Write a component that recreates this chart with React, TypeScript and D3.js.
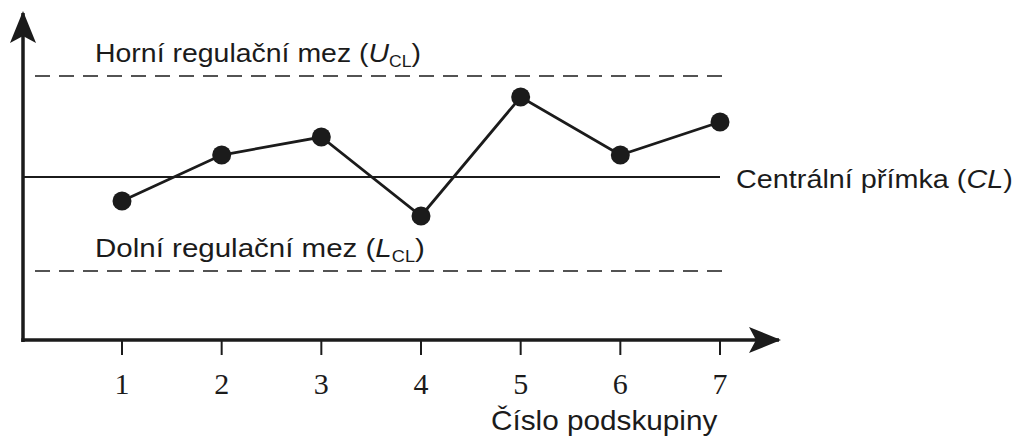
import React, { useEffect, useRef } from 'react';
import * as d3 from 'd3';

const subgroups = [1, 2, 3, 4, 5, 6, 7];
const values = [13.9, 18.5, 20.3, 12.4, 24.3, 18.5, 21.8];
const centralLine = 16.3;
const upperLimit = 26.4;
const lowerLimit = 6.9;

const labelUpper = 'Horní regulační mez (';
const labelLower = 'Dolní regulační mez (';
const labelCentral = 'Centrální přímka (';
const xTitle = 'Číslo podskupiny';

const INK = '#1b1b1b';

const App: React.FC = () => {
  const svgRef = useRef<SVGSVGElement>(null);

  useEffect(() => {
    if (!svgRef.current) return;
    const svg = d3.select(svgRef.current);
    svg.selectAll('*').remove();

    const x = d3.scaleLinear().domain([1, 7]).range([122, 720]);
    const y = d3.scaleLinear().domain([0, 32]).range([340, 20]);

    const defs = svg.append('defs');
    defs.append('marker')
      .attr('id', 'arrow')
      .attr('viewBox', '0 0 32 26')
      .attr('refX', 30)
      .attr('refY', 13)
      .attr('markerWidth', 32)
      .attr('markerHeight', 26)
      .attr('markerUnits', 'userSpaceOnUse')
      .attr('orient', 'auto')
      .append('path')
      .attr('d', 'M0,0 L32,13 L0,26 L7,13 Z')
      .attr('fill', INK);

    const axisX0 = 23;
    // y axis
    svg.append('line')
      .attr('x1', axisX0).attr('y1', y(0) + 2)
      .attr('x2', axisX0).attr('y2', 13)
      .attr('stroke', INK).attr('stroke-width', 3.5)
      .attr('marker-end', 'url(#arrow)');
    // x axis
    svg.append('line')
      .attr('x1', axisX0 - 1.75).attr('y1', y(0))
      .attr('x2', 779).attr('y2', y(0))
      .attr('stroke', INK).attr('stroke-width', 3.5)
      .attr('marker-end', 'url(#arrow)');

    // ticks
    svg.append('g').selectAll('line')
      .data(subgroups)
      .join('line')
      .attr('x1', d => x(d)).attr('x2', d => x(d))
      .attr('y1', y(0)).attr('y2', y(0) + 15)
      .attr('stroke', INK).attr('stroke-width', 2);

    svg.append('g').selectAll('text')
      .data(subgroups)
      .join('text')
      .attr('x', d => x(d))
      .attr('y', 394)
      .attr('text-anchor', 'middle')
      .attr('font-family', '"Liberation Serif", "DejaVu Serif", serif')
      .attr('font-size', 30)
      .attr('fill', INK)
      .text(d => String(d));

    // limit lines
    [upperLimit, lowerLimit].forEach(v => {
      svg.append('line')
        .attr('x1', 35).attr('x2', 722)
        .attr('y1', y(v)).attr('y2', y(v))
        .attr('stroke', INK).attr('stroke-width', 1.6)
        .attr('stroke-dasharray', '15,9');
    });
    svg.append('line')
      .attr('x1', axisX0).attr('x2', 720)
      .attr('y1', y(centralLine)).attr('y2', y(centralLine))
      .attr('stroke', INK).attr('stroke-width', 1.8);

    // data line
    const line = d3.line<number>()
      .x((_, i) => x(subgroups[i]))
      .y(d => y(d));
    svg.append('path')
      .datum(values)
      .attr('d', line)
      .attr('fill', 'none')
      .attr('stroke', INK)
      .attr('stroke-width', 2.8);

    svg.append('g').selectAll('circle')
      .data(values)
      .join('circle')
      .attr('cx', (_, i) => x(subgroups[i]))
      .attr('cy', d => y(d))
      .attr('r', 9.5)
      .attr('fill', INK);

    const sans = '"Liberation Sans", Arial, sans-serif';
    // stretch a label horizontally so it spans [x0, x1]
    const fit = (t: d3.Selection<SVGTextElement, unknown, null, undefined>, x0: number, x1: number, ty: number) => {
      const w = (t.node() as SVGTextElement).getBBox().width;
      if (w > 0) t.attr('transform', `translate(${x0},${ty}) scale(${(x1 - x0) / w},1)`);
    };
    const addLabel = (x0: number, x1: number, ty: number, main: string, letter: string, sub: string | null) => {
      const t = svg.append('text')
        .attr('x', 0).attr('y', 0)
        .attr('font-family', sans)
        .attr('font-size', 26)
        .attr('fill', INK);
      t.append('tspan').text(main);
      t.append('tspan').attr('font-style', 'italic').text(letter);
      if (sub) {
        t.append('tspan').attr('font-size', 16).attr('dy', 5).text(sub);
        t.append('tspan').attr('dy', -5).text(')');
      } else {
        t.append('tspan').text(')');
      }
      fit(t, x0, x1, ty);
    };

    addLabel(95, 421, 62, labelUpper, 'U', 'CL');
    addLabel(95, 425, 257, labelLower, 'L', 'CL');
    addLabel(736, 1013, 188, labelCentral, 'CL', null);

    const title = svg.append('text')
      .attr('x', 0).attr('y', 0)
      .attr('font-family', sans)
      .attr('font-size', 27)
      .attr('fill', INK)
      .text(xTitle);
    fit(title, 491, 718, 430);
  }, []);

  return (
    <svg ref={svgRef} width={1018} height={439}
      style={{ position: 'absolute', left: 0, top: 0, background: '#fff' }} />
  );
};

export default App;
